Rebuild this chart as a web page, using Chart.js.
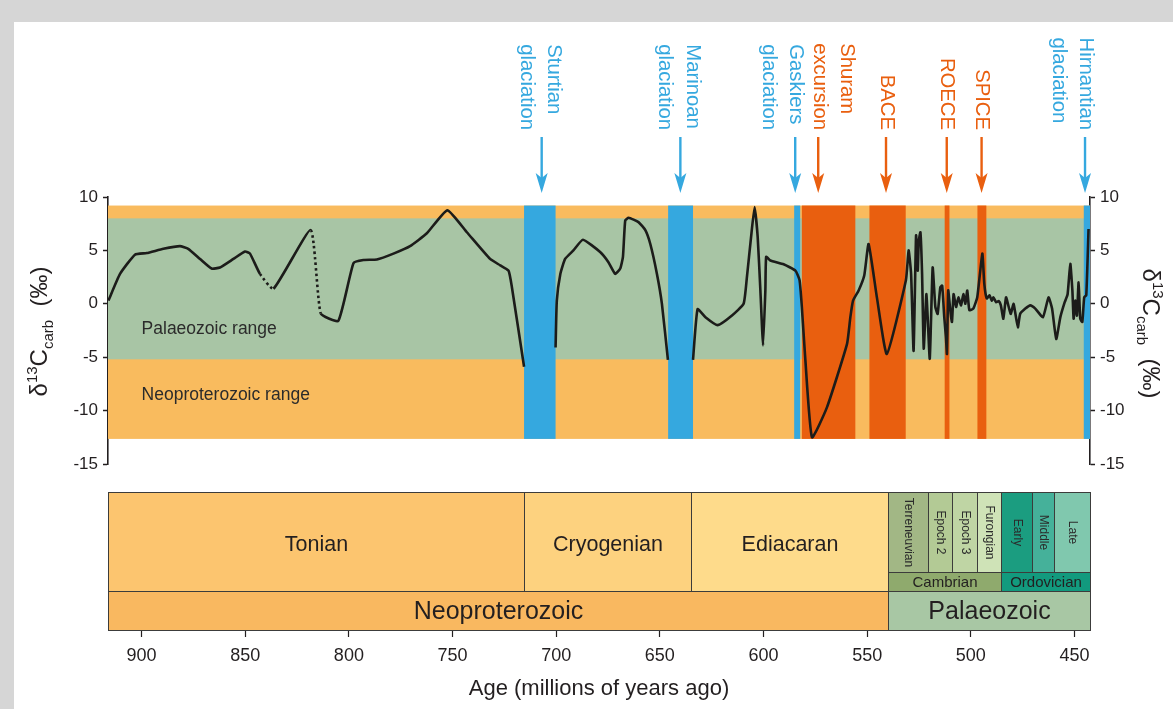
<!DOCTYPE html>
<html>
<head>
<meta charset="utf-8">
<script src="https://cdn.jsdelivr.net/npm/chart.js@4/dist/chart.umd.min.js"></script>
<style>
  html, body { margin: 0; padding: 0; background: #d6d6d6; }
  #frame { position: relative; width: 1173px; height: 709px; overflow: hidden; background: #d6d6d6; }
  #panel { position: absolute; left: 14px; top: 22px; right: 0; bottom: 0; background: #ffffff; }
  canvas { position: absolute; left: 0; top: 0; }
</style>
</head>
<body>
<div id="frame">
  <div id="panel"></div>
  <canvas id="isotope" width="1173" height="709"></canvas>
  <canvas id="timescale" width="1173" height="709"></canvas>
</div>
<script>
// ---------- Carbon isotope record (age in Ma, δ13C in ‰); null = break in the record ----------
const ages = [
  916, 910.4, 903.2, 897.5, 889.5, 881.5, 877.5, 871.8, 866.2, 862.2, 855.7, 850.1, 847.7, 842.9,
  836.4, 818.4, 813.6, 805.1, 797.8, 793, 786.5, 778.5, 770.5, 762.4, 752.5, 743.1, 731.9, 727,
  723, 721.4, 715.5,
  708,
  700.3, 699.7, 698, 695.7, 691.7, 687.1, 678.8, 674.8, 671.5, 669.1, 667.8, 666.7, 665.1, 660.3,
  657, 654.6, 651.4, 649, 646.1,
  640,
  634, 631.8, 628, 622.1, 615.2, 609.6, 608, 606, 604.3, 602.8, 601.5, 600.2, 599.1, 598.7, 596.7,
  590.3, 584.6, 582.6, 581.5, 579.9, 576.6, 569.4, 559.7, 558.1, 556.8, 554.1, 551.4, 549.3, 545.3,
  540.5, 531.3, 530, 528.8, 527.6, 526.4, 525.6, 525.1, 524.3, 523.5, 522.7, 521.4, 519.8, 518.4,
  517.1, 516, 514.7, 513.8, 512.8, 512, 511.5, 510.9, 509.9, 509.1, 508.3, 507.1, 506, 504.7, 503.6,
  502.6, 501.7, 500.7, 498.8, 496.9, 495.6, 494.4, 493.5, 492.3, 491, 489.9, 489.1, 487.8, 486.5,
  485.5, 484.3, 483, 481.7, 480.7, 479.4, 478.6, 477.3, 476.2, 473.7, 471.3, 468.9, 465.2, 462.5,
  460.8, 458.8, 456.8, 454.7, 453.3, 452, 451, 450.4, 449.6, 448.8, 448, 447.2, 446.2, 445.3, 444.3,
  443.2
];
const d13C = [
  0.3, 2.8, 4.6, 4.75, 5.15, 5.4, 5.15, 4.2, 3.3, 3.4, 4.2, 4.9, 4.7, 2.8,
  1.4, 6.9, -0.9, -1.6, 3.8, 4.1, 4.15, 4.7, 5.4, 6.6, 8.75, 6.7, 4.2, 3.6,
  3.1, 1.6, -5.9,
  null,
  -4.1, 0.3, 2.8, 4.2, 5.0, 6.0, 4.85, 3.9, 2.8, 3.3, 4.4, 7.8, 8.05, 7.65,
  6.9, 5.6, 2.8, 0, -5.25,
  null,
  -5.25, -0.5, -1.25, -2.0, -1.1, 0, 2.5, 6.25, 9.05, 6.25, 1.25, -3.9, 1.25, 4.4, 4.05,
  3.7, 3.1, 2.2, -0.3, -5.0, -12.5, -9.7, -3.75, -1.25, 0.3, 1.25, 2.65, 5.6, 0.6,
  -4.7, 2.2, 5.0, 2.8, -4.4, 6.4, 3.1, 5.9, 6.7, 2.8, -4.2, 0.9, -5.15, 3.4,
  -0.3, -0.95, 1.55, 1.7, -1.25, -3.1, -4.7, 1.25, -0.6, -1.7, 0.9, -0.3, 0.6, -0.15, 0.9,
  0, 1.25, -0.6, -0.45, 0.6, 2.8, 4.7, 1.9, 0.5, 0.8, 0.3, 0.6, 0.15, 0.25,
  -0.15, -1.4, 0.6, -0.3, -0.95, 0, -0.8, -2.2, -0.95, -0.45, -0.15, -0.45, -1.25, 0.6,
  -0.45, -3.3, -1.25, 0.15, 0.9, 3.75, 1.25, -1.4, 0.3, -1.1, 2.0, -1.4, -1.7, 0.6, 0.8,
  7.0
];
// segments starting at these ages are inferred (dotted)
const inferredFrom = [842.9, 818.4];

// axes
const ageMin = 442.5;
const ageMax = 916.2;
const ageTicks = [900, 850, 800, 750, 700, 650, 600, 550, 500, 450];
const d13CTicks = [-15, -10, -5, 0, 5, 10];

// isotope ranges (‰)
const rangeNames = ['Neoproterozoic range', 'Palaeozoic range'];
const rangeLow = [-12.65, -5.2];
const rangeHigh = [9.2, 8.0];

// glaciations (Ma)
const glacNames = [['Sturtian', 'glaciation'], ['Marinoan', 'glaciation'], ['Gaskiers', 'glaciation'], ['Hirnantian', 'glaciation']];
const glacStart = [715.5, 646, 585.2, 445.5];
const glacEnd = [700.3, 634, 582.3, 442.5];
const glacArrow = [707, 640.1, 584.7, 444.9];

// carbon isotope excursions (Ma)
const excNames = [['Shuram', 'excursion'], ['BACE'], ['ROECE'], ['SPICE']];
const excStart = [581.5, 548.9, 512.6, 496.8];
const excEnd = [555.7, 531.4, 510.3, 492.5];
const excArrow = [573.6, 540.9, 511.6, 494.8];

// geological time scale (Ma)
const eraNames = ['Neoproterozoic', 'Palaeozoic'];
const eraStart = [916.2, 540];
const eraEnd = [540, 442.5];
const periodNames = ['Tonian', 'Cryogenian', 'Ediacaran', 'Cambrian', 'Ordovician'];
const periodStart = [916.2, 715.5, 635, 540, 485.4];
const periodEnd = [715.5, 635, 540, 485.4, 442.5];
const epochNames = ['Terreneuvian', 'Epoch 2', 'Epoch 3', 'Furongian', 'Early', 'Middle', 'Late'];
const epochStart = [540, 520.5, 509, 497, 485.4, 470.5, 459.8];
const epochEnd = [520.5, 509, 497, 485.4, 470.5, 459.8, 442.5];

// ---------- styling ----------
const FONT = '"Liberation Sans", Arial, Helvetica, sans-serif';
const INK = '#231f20';
const BLUE = '#35a8df';
const RED = '#e95f0f';
const rangeFill = { 'Neoproterozoic range': '#f9bb5e', 'Palaeozoic range': '#a8c5a5' };
const rangeLabelAt = { 'Neoproterozoic range': -8.6, 'Palaeozoic range': -2.35 };
// x offset (px) of the first text line's baseline from its arrow
const labelOffset = {
  Sturtian: 6.5, Marinoan: 6.5, Gaskiers: -5, Hirnantian: -5,
  Shuram: 23, BACE: -5, ROECE: -6, SPICE: -6
};
const boxFill = {
  Neoproterozoic: '#f9b860', Palaeozoic: '#a8c7a4',
  Tonian: '#fcc56f', Cryogenian: '#fdd27f', Ediacaran: '#fedb8b',
  Cambrian: '#8faa6d', Ordovician: '#129a7e',
  Terreneuvian: '#a2b785', 'Epoch 2': '#b3ca95', 'Epoch 3': '#bfd5a4', Furongian: '#cfe3b7',
  Early: '#1b9d80', Middle: '#45b19a', Late: '#80c8ae'
};

// ---------- helpers ----------
function rotatedLines(ctx, lines, xBase, yEnd, spacing, color, size) {
  ctx.save();
  ctx.font = size + 'px ' + FONT;
  ctx.fillStyle = color;
  const w = Math.max(...lines.map(l => ctx.measureText(l).width));
  const yStart = yEnd - w;
  lines.forEach((l, i) => {
    ctx.save();
    ctx.translate(xBase - i * spacing, yStart);
    ctx.rotate(Math.PI / 2);
    ctx.textAlign = 'left';
    ctx.textBaseline = 'alphabetic';
    ctx.fillText(l, 0, 0);
    ctx.restore();
  });
  ctx.restore();
}

function arrow(ctx, x, yTop, yTip, color) {
  ctx.save();
  ctx.strokeStyle = color;
  ctx.fillStyle = color;
  ctx.lineWidth = 2.4;
  ctx.beginPath();
  ctx.moveTo(x, yTop);
  ctx.lineTo(x, yTip - 12);
  ctx.stroke();
  ctx.beginPath();
  ctx.moveTo(x, yTip);
  ctx.lineTo(x - 6, yTip - 20);
  ctx.lineTo(x, yTip - 15);
  ctx.lineTo(x + 6, yTip - 20);
  ctx.closePath();
  ctx.fill();
  ctx.restore();
}

// δ13Ccarb (‰) with superscript and subscript, drawn along the rotated baseline
const titleParts = [
  { t: 'δ', s: 24, dy: 0 },
  { t: '13', s: 15, dy: -10 },
  { t: 'C', s: 24, dy: 0 },
  { t: 'carb', s: 15, dy: 6 },
  { t: '  (‰)', s: 24, dy: 0 }
];
function isotopeTitle(ctx, x, y, angle) {
  ctx.save();
  ctx.translate(x, y);
  ctx.rotate(angle);
  ctx.fillStyle = INK;
  ctx.textBaseline = 'alphabetic';
  let cx = 0;
  titleParts.forEach(p => {
    ctx.font = p.s + 'px ' + FONT;
    ctx.fillText(p.t, cx, p.dy);
    cx += ctx.measureText(p.t).width;
  });
  ctx.restore();
}
function titleLength(ctx) {
  let w = 0;
  titleParts.forEach(p => { ctx.font = p.s + 'px ' + FONT; w += ctx.measureText(p.t).width; });
  return w;
}

// ---------- upper panel: isotope curve ----------
const isotopeDecor = {
  id: 'isotopeDecor',
  beforeDatasetsDraw(chart) {
    const { ctx, scales: { x, y } } = chart;
    const xl = x.getPixelForValue(ageMax), xr = x.getPixelForValue(ageMin);
    ctx.save();
    rangeNames.forEach((n, i) => {
      const t = y.getPixelForValue(rangeHigh[i]), b = y.getPixelForValue(rangeLow[i]);
      ctx.fillStyle = rangeFill[n];
      ctx.fillRect(xl, t, xr - xl, b - t);
    });
    const top = y.getPixelForValue(rangeHigh[0]), bot = y.getPixelForValue(rangeLow[0]);
    const bands = (starts, ends, color) => starts.forEach((s, i) => {
      const a = x.getPixelForValue(s), b = x.getPixelForValue(ends[i]);
      ctx.fillStyle = color;
      ctx.fillRect(a, top, b - a, bot - top);
    });
    bands(excStart, excEnd, RED);
    bands(glacStart, glacEnd, BLUE);
    ctx.font = '17.5px ' + FONT;
    ctx.fillStyle = '#2b2b2b';
    ctx.textBaseline = 'middle';
    ctx.textAlign = 'left';
    rangeNames.forEach(n => {
      ctx.fillText(n, x.getPixelForValue(900), y.getPixelForValue(rangeLabelAt[n]));
    });
    ctx.restore();
  },
  afterDraw(chart) {
    const { ctx, chartArea, scales: { x } } = chart;
    const tip = chartArea.top - 4;
    const tail = chartArea.top - 60;
    const endY = 130;
    const put = (names, arrows, color) => names.forEach((lines, i) => {
      const ax = x.getPixelForValue(arrows[i]);
      arrow(ctx, ax, tail, tip, color);
      rotatedLines(ctx, lines, ax + labelOffset[lines[0]], endY, 27.5, color, 20.3);
    });
    put(glacNames, glacArrow, BLUE);
    put(excNames, excArrow, RED);
    const midY = (chartArea.top + chartArea.bottom) / 2;
    const len = titleLength(ctx);
    isotopeTitle(ctx, 47, midY - 5 + len / 2 + 6, -Math.PI / 2);
    isotopeTitle(ctx, 1143, midY + 3 - len / 2, Math.PI / 2);
  }
};

const yAxis = (pos, width) => ({
  type: 'linear',
  position: pos,
  min: -15, max: 10,
  afterFit(s) { s.width = width; },
  afterBuildTicks(s) { s.ticks = d13CTicks.map(v => ({ value: v })); },
  grid: { drawOnChartArea: false, drawTicks: true, tickLength: 5, tickColor: INK, tickWidth: 1.5 },
  border: { display: true, color: INK, width: 1.6 },
  ticks: { color: INK, padding: 5, font: { family: FONT, size: 17 } }
});

new Chart(document.getElementById('isotope'), {
  type: 'line',
  data: {
    datasets: [{
      data: ages.map((a, i) => ({ x: a, y: d13C[i] })),
      borderColor: '#1c1c1a',
      borderWidth: 2.6,
      pointRadius: 0,
      spanGaps: false,
      tension: 0.15,
      borderJoinStyle: 'round',
      segment: {
        borderDash: c => inferredFrom.includes(ages[c.p0DataIndex]) ? [2.5, 3] : undefined
      }
    }]
  },
  options: {
    responsive: false,
    animation: false,
    events: [],
    layout: { padding: { top: 197, bottom: 245, left: 0, right: 0 } },
    plugins: { legend: { display: false }, tooltip: { enabled: false } },
    scales: {
      x: { type: 'linear', reverse: true, min: ageMin, max: ageMax, display: false },
      y: yAxis('left', 108),
      y2: yAxis('right', 83)
    }
  },
  plugins: [isotopeDecor]
});

// ---------- lower panel: geological time scale ----------
const ROW = { era: [0, 39], period: [39, 58], epoch: [58, 138], tall: [39, 138] };

const timescaleDecor = {
  id: 'timescaleDecor',
  afterDraw(chart) {
    const { ctx, scales: { x, y } } = chart;
    const rect = (a0, a1, row) => {
      const l = Math.round(x.getPixelForValue(a0)) + 0.5;
      const r = Math.round(x.getPixelForValue(a1)) + 0.5;
      const t = Math.round(y.getPixelForValue(row[1])) + 0.5;
      const b = Math.round(y.getPixelForValue(row[0])) + 0.5;
      return { l, r, t, b, cx: (l + r) / 2, cy: (t + b) / 2 };
    };
    const drawBox = (b, fill) => {
      ctx.fillStyle = fill;
      ctx.fillRect(b.l, b.t, b.r - b.l, b.b - b.t);
      ctx.strokeRect(b.l, b.t, b.r - b.l, b.b - b.t);
    };
    ctx.save();
    ctx.strokeStyle = '#3c3c3b';
    ctx.lineWidth = 1;
    ctx.textAlign = 'center';
    ctx.textBaseline = 'middle';
    ctx.fillStyle = INK;

    eraNames.forEach((n, i) => {
      const b = rect(eraStart[i], eraEnd[i], ROW.era);
      drawBox(b, boxFill[n]);
      ctx.fillStyle = INK;
      ctx.font = '25px ' + FONT;
      ctx.fillText(n, b.cx, b.cy + 1);
    });
    periodNames.forEach((n, i) => {
      const tall = periodStart[i] > eraEnd[0];
      const b = rect(periodStart[i], periodEnd[i], tall ? ROW.tall : ROW.period);
      drawBox(b, boxFill[n]);
      ctx.fillStyle = INK;
      ctx.font = (tall ? 21.5 : 15) + 'px ' + FONT;
      ctx.fillText(n, b.cx, b.cy + (tall ? 3 : 0.5));
    });
    epochNames.forEach((n, i) => {
      const b = rect(epochStart[i], epochEnd[i], ROW.epoch);
      drawBox(b, boxFill[n]);
      ctx.save();
      ctx.translate(b.cx, b.cy);
      ctx.rotate(Math.PI / 2);
      ctx.fillStyle = '#2b2b2b';
      ctx.font = '12px ' + FONT;
      ctx.fillText(n, 0, 0);
      ctx.restore();
    });
    ctx.restore();
  }
};

new Chart(document.getElementById('timescale'), {
  type: 'scatter',
  data: { datasets: [{ data: [] }] },
  options: {
    responsive: false,
    animation: false,
    events: [],
    layout: { padding: { top: 492, bottom: 0, left: 108, right: 83 } },
    plugins: { legend: { display: false }, tooltip: { enabled: false } },
    scales: {
      x: {
        type: 'linear', reverse: true, min: ageMin, max: ageMax,
        afterFit(s) { s.height = 79; },
        afterBuildTicks(s) { s.ticks = ageTicks.map(v => ({ value: v })); },
        grid: { drawOnChartArea: false, drawTicks: true, tickLength: 7, tickColor: INK, tickWidth: 1.2 },
        border: { display: false },
        ticks: { color: INK, padding: 8, maxRotation: 0, font: { family: FONT, size: 18 } },
        title: { display: true, text: 'Age (millions of years ago)', color: INK,
                 font: { family: FONT, size: 22 }, padding: { top: 0, bottom: 7 } }
      },
      y: { type: 'linear', min: 0, max: 138, display: false }
    }
  },
  plugins: [timescaleDecor]
});
</script>
</body>
</html>
